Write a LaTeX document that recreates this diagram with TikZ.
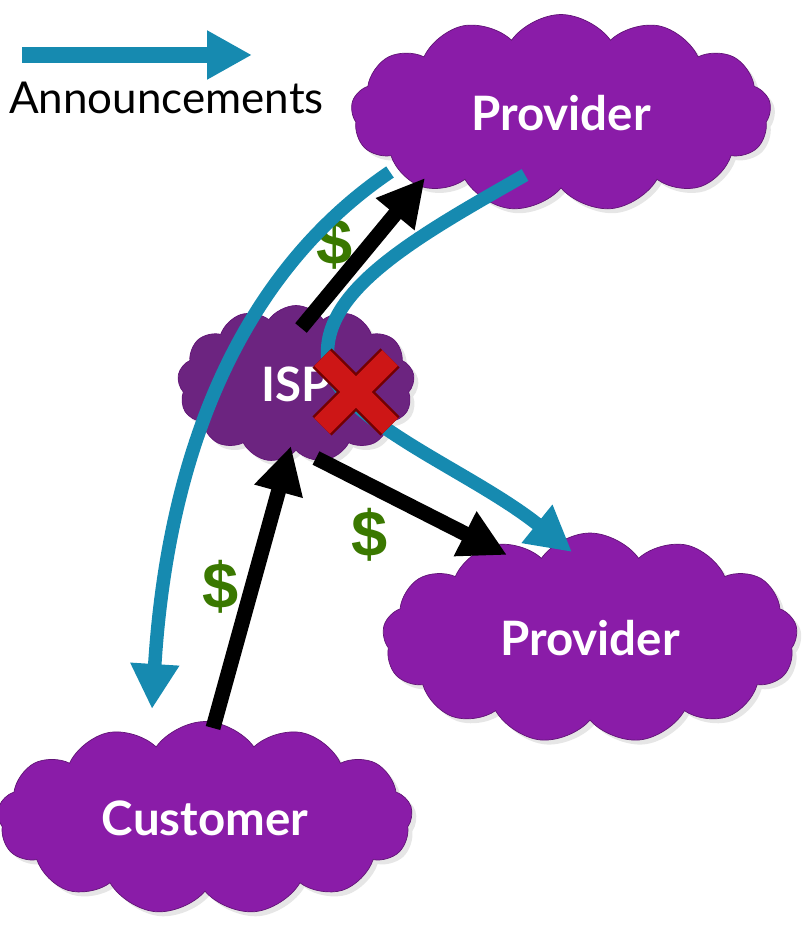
\documentclass[tikz,border=0pt]{standalone}
\usepackage{fontspec}
\setmainfont{Lato}
\newfontfamily\cashfont{Liberation Sans}
\usetikzlibrary{positioning}
\usetikzlibrary{shapes.symbols}
\usetikzlibrary{arrows.meta}
\usetikzlibrary{shadows}
\definecolor{cloudpurple}{RGB}{138,28,168}
\definecolor{isppurple}{RGB}{108,36,128}
\definecolor{annblue}{RGB}{22,138,176}
\definecolor{cashgreen}{RGB}{58,120,0}
\definecolor{crossred}{RGB}{205,22,22}
\definecolor{crossdark}{RGB}{115,0,0}
\tikzset{
	cloudbox/.style={cloud, cloud puffs=13, cloud puff arc=110, cloud ignores aspect, fill=cloudpurple, draw=cloudpurple!70!black, thin, text=white, font=\fontsize{27}{30}\selectfont\bfseries, drop shadow={opacity=0.2}},
	announce/.style={-{Triangle[length=0.9cm,width=0.92cm]}, line width=0.27cm, annblue},
	money/.style={-{Triangle[length=0.94cm,width=0.94cm]}, line width=0.3cm, black},
	cash/.style={text=cashgreen, font=\cashfont\fontsize{37}{40}\selectfont\bfseries},
	legendtext/.style={font=\fontsize{25}{28}\selectfont},
	crossedge/.style={line width=0.54cm, crossdark},
	crossbar/.style={line width=0.44cm, crossred}
}

\begin{document}
\begin{tikzpicture}[x=0.02cm, y=-0.02cm]
	\useasboundingbox (0,0) rectangle (807,925);

	% Legend
	\coordinate (leg-start) at (22,55);
	\coordinate (leg-end) at (252,55);
	\draw[announce, line width=0.32cm] (leg-start) -- (leg-end);
	\node (leg-txt) [legendtext, below right = 0.42cm and -0.38cm of leg-start] {Announcements};

	% Clouds
	\node (prov-top) [cloudbox, minimum width=8.4cm, minimum height=3.94cm] at (561,113) {Provider};
	\node (isp) [cloudbox, fill=isppurple, minimum width=4.74cm, minimum height=3.14cm] at (296,384) {ISP};
	\node (prov-low) [cloudbox, minimum width=8.3cm, minimum height=4.2cm] at (590,638) {Provider};
	\node (cust) [cloudbox, minimum width=8.3cm, minimum height=3.86cm] at (205,818) {Customer};

	% Payments
	\node (cash-top) [cash] at (335,243) {\$};
	\node (cash-mid) [cash] at (370,535) {\$};
	\node (cash-low) [cash] at (221,587) {\$};

	\coordinate (isp-up) at (301,328);
	\coordinate (top-in) at (425,178);
	\coordinate (cust-out) at (213,728);
	\coordinate (isp-in) at (291,446);
	\coordinate (isp-down) at (316,458);
	\coordinate (low-in) at (507,555);
	\draw[money] (isp-up) -- (top-in);
	\draw[money] (cust-out) -- (isp-in);
	\draw[money] (isp-down) -- (low-in);

	% Announcements
	\coordinate (top-a) at (390,172);
	\coordinate (cust-in) at (152,709);
	\coordinate (top-b) at (525,175);
	\coordinate (isp-turn) at (328,360);
	\coordinate (low-ann) at (572,552);
	\draw[announce] (top-a) .. controls (260,260) and (170,420) .. (cust-in);
	\draw[announce] (top-b) .. controls (420,235) and (320,290) .. (isp-turn)
		.. controls (335,420) and (470,470) .. (low-ann);

	% Blocked
	\coordinate (x-a) at (322,358);
	\coordinate (x-b) at (390,426);
	\coordinate (x-c) at (322,426);
	\coordinate (x-d) at (390,358);
	\draw[crossedge] (x-a) -- (x-b) (x-c) -- (x-d);
	\draw[crossbar] (x-a) -- (x-b) (x-c) -- (x-d);
\end{tikzpicture}
\end{document}
